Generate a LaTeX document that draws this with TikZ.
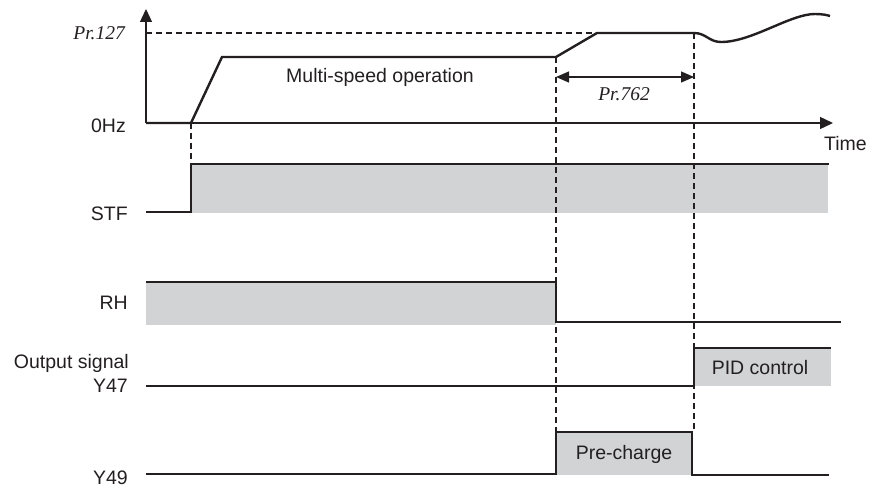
\documentclass[tikz,border=0pt]{standalone}
\usepackage{fontspec}
\setmainfont{Liberation Sans}
\newfontfamily\serifit{Liberation Serif}
\usetikzlibrary{arrows.meta}
\definecolor{fillg}{RGB}{210,211,213}
\definecolor{ink}{RGB}{35,31,32}
\begin{document}
\begin{tikzpicture}[x=1pt,y=-1pt,
  sigline/.style={line width=2.4pt, draw=ink, line join=miter},
  thinline/.style={line width=1.3pt, draw=ink},
  guide/.style={line width=1.3pt, draw=ink, dash pattern=on 6pt off 4pt},
  lbl/.style={font=\fontsize{19.5}{22}\selectfont, text=ink, inner sep=0pt},
  prlbl/.style={font=\fontsize{19.5}{22}\selectfont\serifit\itshape, text=ink, inner sep=0pt},
  high/.style={fill=fillg, draw=none},
  tip/.style={-{Triangle[length=13pt,width=12pt]}}]
\useasboundingbox (0,0) rectangle (869,487);

% coordinates
\coordinate (o) at (146,123);
\coordinate (ytop) at (146,9);
\coordinate (xend) at (833,123);
\coordinate (t1) at (191,123);
\coordinate (t2) at (556,123);
\coordinate (t3) at (694,123);

% gray high regions
\fill[high] (191,164) rectangle (828,213);
\fill[high] (146,282) rectangle (556,325);
\fill[high] (694,348) rectangle (831,386);
\fill[high] (556,432) rectangle (692,475);

% guide lines
\draw[guide] (146,33) -- (597,33);
\draw[guide] (191,123) -- (191,164);
\draw[guide] (556,57) -- (556,432);
\draw[guide] (694,33) -- (694,432);

% axes
\draw[thinline, tip] (o) -- (ytop);
\draw[thinline, tip] (o) -- (xend);

% frequency
\draw[sigline] (o) -- (t1) -- (222,57) -- (556,57) -- (597,33) -- (694,33)
  .. controls (706,33) and (709,42) .. (721,42)
  .. controls (752,42) and (790,14) .. (815,14)
  .. controls (822,14) and (827,15) .. (830,16);

% Pr.762 dimension
\coordinate (d1) at (556,77);
\coordinate (d2) at (694,77);
\draw[thinline, {Triangle[length=13pt,width=11pt]}-{Triangle[length=13pt,width=11pt]}] (d1) -- (d2);

% signals
\draw[sigline] (146,212) -- (191,212) -- (191,164) -- (829,164);
\draw[sigline] (146,282) -- (556,282) -- (556,322) -- (841,322);
\draw[sigline] (146,386) -- (694,386) -- (694,348) -- (831,348);
\draw[sigline] (146,474) -- (556,474) -- (556,432) -- (692,432) -- (692,475) -- (829,475);

% labels
\node[prlbl, anchor=base east] (lpr127) at (125,40) {Pr.127};
\node[lbl, anchor=base east] (l0hz) at (126,132) {0Hz};
\node[lbl, anchor=base west] (ltime) at (824,150) {Time};
\node[lbl, anchor=base east] (lstf) at (128,220) {STF};
\node[lbl, anchor=base east] (lrh) at (128,309) {RH};
\node[lbl, anchor=base east] (lout) at (129,368) {Output signal};
\node[lbl, anchor=base east] (ly47) at (128,392) {Y47};
\node[lbl, anchor=base east] (ly49) at (128,484) {Y49};
\node[lbl, anchor=base] (lmulti) at (380,82) {Multi-speed operation};
\node[prlbl, anchor=base] (lpr762) at (624,100) {Pr.762};
\node[lbl, anchor=base] (lpid) at (760,374) {PID control};
\node[lbl, anchor=base] (lpre) at (624,459) {Pre-charge};
\end{tikzpicture}
\end{document}
